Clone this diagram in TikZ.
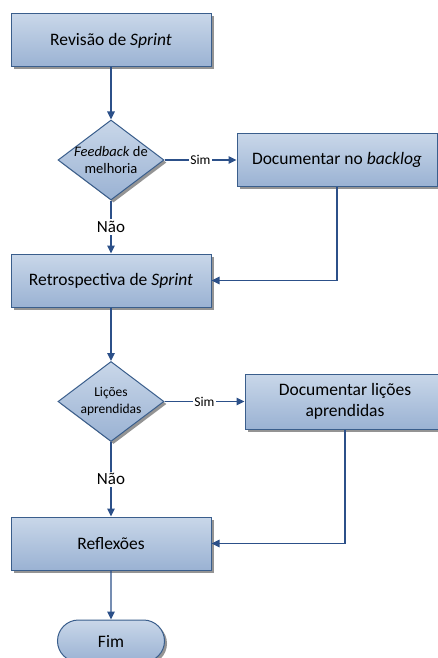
\documentclass[tikz,border=0pt]{standalone}
\usepackage{fontspec}
\setmainfont{Carlito}
\usetikzlibrary{shapes.geometric,shapes.misc,shadows,arrows.meta}
\definecolor{boxtop}{HTML}{C9D7E9}
\definecolor{boxbot}{HTML}{9AB2D3}
\definecolor{boxline}{HTML}{3A5E8C}
\definecolor{flowline}{HTML}{2C5089}
\begin{document}
\begin{tikzpicture}[x=1pt,y=-1pt,
  base/.style={draw=boxline, line width=1pt, top color=boxtop, bottom color=boxbot,
    drop shadow={shadow xshift=2.5pt, shadow yshift=-2.5pt, fill=black!42, opacity=1},
    inner sep=0pt, text=black},
  stepbox/.style={base, rectangle, minimum width=200pt, minimum height=53pt,
    align=center, font=\fontsize{17.5}{21}\selectfont},
  decision/.style={base, diamond, minimum width=106pt, minimum height=80pt},
  dtext/.style={align=center, inner sep=0pt, text=black},
  terminal/.style={base, rounded rectangle, minimum width=107pt, minimum height=42pt,
    font=\fontsize{17.5}{21}\selectfont},
  flow/.style={draw=flowline, line width=1.3pt, -{Triangle[length=8pt,width=7.5pt]}},
  link/.style={draw=flowline, line width=1.3pt},
  sim/.style={fill=white, inner sep=1pt, text=black, font=\fontsize{13.5}{15}\selectfont},
  nao/.style={fill=white, inner sep=2pt, text=black, font=\fontsize{17}{19}\selectfont}
]
\fill[white] (0,0) rectangle (438,658);
\clip (0,0) rectangle (438,658);

% process steps
\node[stepbox] (b1) at (111,40.5) {Revisão de \textit{Sprint}};
\node[decision] (d1) at (111,160) {};
\node[dtext, font=\fontsize{14.5}{17.6}\selectfont] (t1) at (d1.center) {\textit{Feedback} de\\melhoria};
\node[stepbox] (b2) at (337,160) {Documentar no \textit{backlog}};
\node[stepbox] (b3) at (111,280.5) {Retrospectiva de \textit{Sprint}};
\node[decision] (d2) at (111,401.5) {};
\node[dtext, font=\fontsize{13.5}{17.3}\selectfont] (t2) at (d2.center) {Lições\\aprendidas};
\node[stepbox, minimum height=55pt] (b4) at (345,401.5) {Documentar lições\\aprendidas};
\node[stepbox] (b5) at (111,543.5) {Reflexões};
\node[terminal] (fim) at (111,641) {Fim};

% connectors
\draw[flow] (b1) -- (d1);
\draw[flow] (d1.east) -- node[sim] {Sim} (b2.west);
\draw[flow] (d1.south) -- node[nao] {Não} (b3.north);
\draw[flow] (b2.south) |- (b3.east);
\draw[flow] (b3) -- (d2);
\draw[flow] (d2.east) -- node[sim] {Sim} (b4.west);
\draw[flow] (d2.south) -- node[nao] {Não} (b5.north);
\draw[flow] (b4.south) |- (b5.east);
\draw[flow] (b5) -- (fim);
\end{tikzpicture}
\end{document}
